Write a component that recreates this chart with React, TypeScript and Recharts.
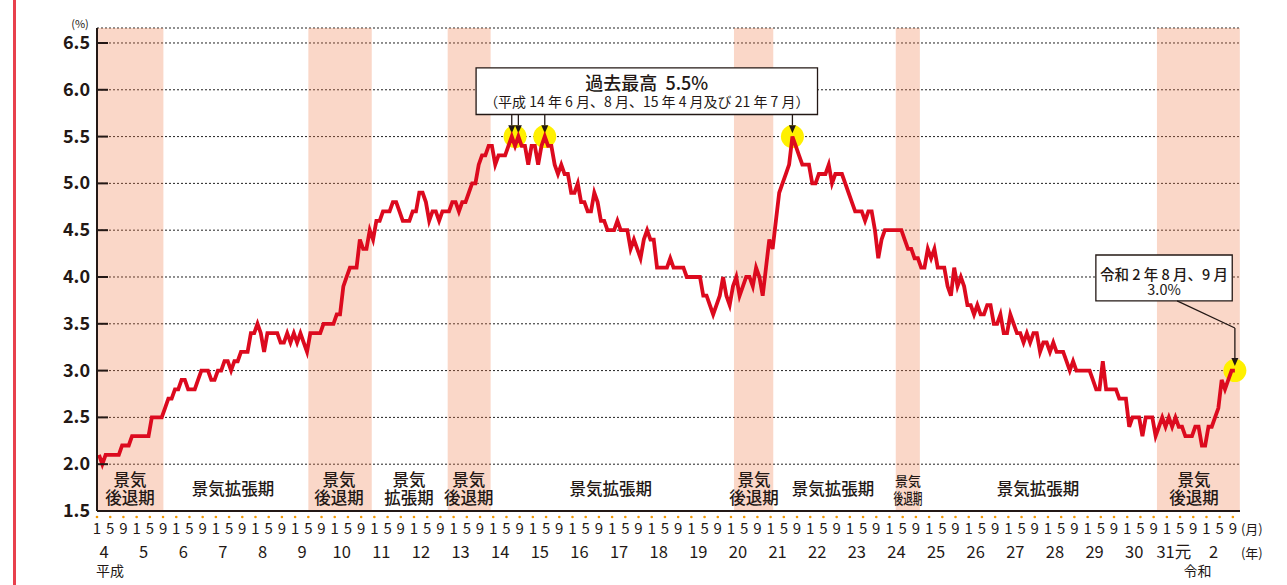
import React from "react";
import {
  LineChart,
  Line,
  XAxis,
  YAxis,
  CartesianGrid,
  ReferenceArea,
  ReferenceLine,
  ReferenceDot,
} from "recharts";

const FONT = "'Noto Sans CJK JP', 'Noto Sans', sans-serif";
const INK = "#231815";
const RED = "#dc0a1e";

// 完全失業率（季節調整値, %）: 平成4年1月 ～ 令和2年9月
const y1992 = [2.1, 2.0, 2.1, 2.1, 2.1, 2.1, 2.1, 2.2, 2.2, 2.2, 2.3, 2.3];
const y1993 = [2.3, 2.3, 2.3, 2.3, 2.5, 2.5, 2.5, 2.5, 2.6, 2.7, 2.7, 2.8];
const y1994 = [2.8, 2.9, 2.9, 2.8, 2.8, 2.8, 2.9, 3.0, 3.0, 3.0, 2.9, 2.9];
const y1995 = [3.0, 3.0, 3.1, 3.1, 3.0, 3.1, 3.1, 3.2, 3.2, 3.2, 3.4, 3.4];
const y1996 = [3.5, 3.4, 3.2, 3.4, 3.4, 3.4, 3.4, 3.3, 3.3, 3.4, 3.3, 3.4];
const y1997 = [3.3, 3.4, 3.3, 3.2, 3.4, 3.4, 3.4, 3.4, 3.5, 3.5, 3.5, 3.5];
const y1998 = [3.6, 3.6, 3.9, 4.0, 4.1, 4.1, 4.1, 4.4, 4.3, 4.3, 4.5, 4.4];
const y1999 = [4.6, 4.6, 4.7, 4.7, 4.7, 4.8, 4.8, 4.7, 4.6, 4.6, 4.6, 4.7];
const y2000 = [4.7, 4.9, 4.9, 4.8, 4.6, 4.7, 4.7, 4.6, 4.7, 4.7, 4.7, 4.8];
const y2001 = [4.8, 4.7, 4.8, 4.8, 4.9, 5.0, 5.0, 5.2, 5.3, 5.3, 5.4, 5.4];
const y2002 = [5.2, 5.3, 5.3, 5.3, 5.4, 5.5, 5.4, 5.5, 5.4, 5.4, 5.2, 5.4];
const y2003 = [5.4, 5.2, 5.4, 5.5, 5.4, 5.4, 5.2, 5.1, 5.2, 5.1, 5.1, 4.9];
const y2004 = [4.9, 5.0, 4.8, 4.8, 4.7, 4.7, 4.9, 4.8, 4.6, 4.6, 4.5, 4.5];
const y2005 = [4.5, 4.6, 4.5, 4.5, 4.5, 4.3, 4.4, 4.3, 4.2, 4.4, 4.5, 4.4];
const y2006 = [4.4, 4.1, 4.1, 4.1, 4.1, 4.2, 4.1, 4.1, 4.1, 4.1, 4.0, 4.0];
const y2007 = [4.0, 4.0, 4.0, 3.8, 3.8, 3.7, 3.6, 3.7, 3.8, 4.0, 3.8, 3.7];
const y2008 = [3.9, 4.0, 3.8, 3.9, 4.0, 4.0, 3.9, 4.1, 4.0, 3.8, 4.1, 4.4];
const y2009 = [4.3, 4.6, 4.9, 5.0, 5.1, 5.2, 5.5, 5.4, 5.3, 5.2, 5.2, 5.2];
const y2010 = [5.0, 5.0, 5.1, 5.1, 5.1, 5.2, 5.0, 5.1, 5.1, 5.1, 5.0, 4.9];
const y2011 = [4.8, 4.7, 4.7, 4.7, 4.6, 4.7, 4.7, 4.5, 4.2, 4.4, 4.5, 4.5];
const y2012 = [4.5, 4.5, 4.5, 4.5, 4.4, 4.3, 4.3, 4.2, 4.2, 4.1, 4.1, 4.3];
const y2013 = [4.2, 4.3, 4.1, 4.1, 4.1, 3.9, 3.8, 4.1, 3.9, 4.0, 3.9, 3.7];
const y2014 = [3.7, 3.6, 3.7, 3.6, 3.6, 3.7, 3.7, 3.5, 3.5, 3.6, 3.4, 3.4];
const y2015 = [3.6, 3.5, 3.4, 3.4, 3.3, 3.4, 3.3, 3.4, 3.4, 3.2, 3.3, 3.3];
const y2016 = [3.2, 3.3, 3.2, 3.2, 3.2, 3.1, 3.0, 3.1, 3.0, 3.0, 3.0, 3.0];
const y2017 = [3.0, 2.9, 2.8, 2.8, 3.1, 2.8, 2.8, 2.8, 2.8, 2.7, 2.7, 2.7];
const y2018 = [2.4, 2.5, 2.5, 2.5, 2.3, 2.5, 2.5, 2.5, 2.3, 2.4, 2.5, 2.4];
const y2019 = [2.5, 2.4, 2.5, 2.4, 2.4, 2.3, 2.3, 2.3, 2.4, 2.4, 2.2, 2.2];
const y2020 = [2.4, 2.4, 2.5, 2.6, 2.9, 2.8, 2.9, 3.0, 3.0];

const RATES = [
  ...y1992, ...y1993, ...y1994, ...y1995, ...y1996, ...y1997, ...y1998,
  ...y1999, ...y2000, ...y2001, ...y2002, ...y2003, ...y2004, ...y2005,
  ...y2006, ...y2007, ...y2008, ...y2009, ...y2010, ...y2011, ...y2012,
  ...y2013, ...y2014, ...y2015, ...y2016, ...y2017, ...y2018, ...y2019,
  ...y2020,
];

// 年ラベル（1月の位置）
const YEAR_LABELS = [
  "4", "5", "6", "7", "8", "9", "10", "11", "12", "13", "14", "15", "16",
  "17", "18", "19", "20", "21", "22", "23", "24", "25", "26", "27", "28",
  "29", "30", "31元", "2",
];
const Y_TICKS = [1.5, 2.0, 2.5, 3.0, 3.5, 4.0, 4.5, 5.0, 5.5, 6.0, 6.5];

// 景気後退期（月インデックス）
const RECESSIONS = [
  [-0.6, 19.5],
  [63.4, 82.6],
  [105.6, 118.6],
  [192.3, 204.2],
  [241.3, 248.6],
  [320.4, 345.5],
];

const PHASES = [
  { at: 9.4, text: ["景気", "後退期"] },
  { at: 40.6, text: ["景気拡張期"] },
  { at: 72.7, text: ["景気", "後退期"] },
  { at: 93.9, text: ["景気", "拡張期"] },
  { at: 112, text: ["景気", "後退期"] },
  { at: 155, text: ["景気拡張期"] },
  { at: 198.4, text: ["景気", "後退期"] },
  { at: 222.3, text: ["景気拡張期"] },
  { at: 245, text: ["景気", "後退期"], narrow: true },
  { at: 284.4, text: ["景気拡張期"] },
  { at: 331.6, text: ["景気", "後退期"] },
];

// 過去最高 5.5% の月と令和2年8・9月
const PEAK_MONTHS = [125, 127, 135, 210];
const HIGHLIGHTS = [
  { m: 126, v: 5.5 },
  { m: 135, v: 5.5 },
  { m: 210, v: 5.5 },
  { m: 344, v: 3.0 },
];

const TABLE = RATES.map((rate, m) => ({ m, rate }));
const MONTH_TICKS = TABLE.filter((d) => d.m % 4 === 0).map((d) => d.m);

const txt = { fontFamily: FONT, fill: INK } as const;

const RateTick = (props: any) => {
  const { x, y, payload } = props;
  const v = payload.value as number;
  return (
    <g>
      <line x1={x} x2={x + 11} y1={y} y2={y} stroke={INK} strokeWidth={2} />
      <text x={x - 7} y={y + 6} textAnchor="end" fontSize={18} fontWeight={600} {...txt}>
        {v.toFixed(1)}
      </text>
      {v === 6.5 && (
        <text x={x - 17} y={y - 15} textAnchor="middle" fontSize={11} {...txt}>
          (%)
        </text>
      )}
    </g>
  );
};

const MonthTick = (props: any) => {
  const { x, y, payload } = props;
  const i = payload.value as number;
  const month = (i % 12) + 1;
  const lx = x - 2;
  return (
    <g>
      <circle cx={lx} cy={y + 6} r={1.3} fill="#f39800" />
      <text x={lx} y={y + 23} textAnchor="middle" fontSize={15} {...txt}>
        {month}
      </text>
      {month === 1 && (
        <text x={x + 5} y={y + 47} textAnchor="middle" fontSize={16.5} {...txt}>
          {YEAR_LABELS[Math.floor(i / 12)]}
        </text>
      )}
      {i === 0 && (
        <text x={x + 11} y={y + 65} textAnchor="middle" fontSize={14} {...txt}>
          平成
        </text>
      )}
      {i === 336 && (
        <text x={x - 11} y={y + 65} textAnchor="middle" fontSize={14} {...txt}>
          令和
        </text>
      )}
      {i === 344 && (
        <g>
          <text x={x + 17} y={y + 23} textAnchor="middle" fontSize={13} {...txt}>
            (月)
          </text>
          <text x={x + 17} y={y + 47} textAnchor="middle" fontSize={13} {...txt}>
            (年)
          </text>
        </g>
      )}
    </g>
  );
};

const PhaseText = (props: any) => {
  const { cx, cy, text, narrow } = props;
  if (text.length === 1) {
    return (
      <text x={cx} y={cy + 6} textAnchor="middle" fontSize={16.5} fontWeight={500} {...txt}>
        {text[0]}
      </text>
    );
  }
  const fs = narrow ? 13 : 16.5;
  return (
    <text textAnchor="middle" fontSize={fs} fontWeight={500} {...txt}>
      <tspan x={cx} y={cy - 3}>
        {text[0]}
      </tspan>
      <tspan
        x={cx}
        y={cy + 15}
        {...(narrow ? { fontSize: 15, textLength: 29, lengthAdjust: "spacingAndGlyphs" } : {})}
      >
        {text[1]}
      </tspan>
    </text>
  );
};

const ArrowLine = (p: any) => {
  const { x1, y1, x2, y2 } = p;
  const ang = Math.atan2(y2 - y1, x2 - x1);
  const bx = x2 - 8 * Math.cos(ang);
  const by = y2 - 8 * Math.sin(ang);
  const px = -Math.sin(ang) * 3.5;
  const py = Math.cos(ang) * 3.5;
  return (
    <g>
      <line x1={x1} y1={y1} x2={bx} y2={by} stroke={INK} strokeWidth={1.3} />
      <polygon points={`${x2},${y2} ${bx + px},${by + py} ${bx - px},${by - py}`} fill={INK} />
    </g>
  );
};

const boxLabel = (lines: string[], sizes: number[], dys: number[]) => (props: any) => {
  const vb = props.viewBox || {};
  const cx = vb.x + vb.width / 2;
  return (
    <text textAnchor="middle" {...txt}>
      {lines.map((l, k) => (
        <tspan key={k} x={cx} y={vb.y + dys[k]} fontSize={sizes[k]} fontWeight={k === 0 ? 500 : 400}>
          {l}
        </tspan>
      ))}
    </text>
  );
};

const YellowDot = (p: any) => (
  <circle cx={p.x + p.width / 2} cy={p.y + p.height / 2} r={11.5} fill="#fff000" />
);

export default function App() {
  return (
    <div style={{ position: "absolute", left: 0, top: 0, width: 1287, height: 585, background: "#fff" }}>
      <div style={{ position: "absolute", left: 13, top: 0, width: 3, height: 585, background: "#e8404d" }} />
      <LineChart width={1287} height={585} data={TABLE} margin={{ top: 28, right: 47, bottom: 0, left: 0 }}>
        {RECESSIONS.map(([a, b], k) => (
          <ReferenceArea key={`r${k}`} x1={a} x2={b} y1={1.5} y2={6.66} fill="#f07a4a" fillOpacity={0.3} stroke="none" />
        ))}
        <CartesianGrid vertical={false} stroke="#222" strokeDasharray="2 2" />
        <XAxis
          dataKey="m"
          type="number"
          domain={[-0.606, 345.55]}
          ticks={MONTH_TICKS}
          interval={0}
          height={74}
          tickSize={0}
          tickMargin={0}
          tickLine={false}
          axisLine={{ stroke: INK, strokeWidth: 2 }}
          tick={<MonthTick />}
        />
        <YAxis
          type="number"
          domain={[1.5, 6.66]}
          ticks={Y_TICKS}
          interval={0}
          width={97}
          tickSize={0}
          tickMargin={0}
          tickLine={false}
          axisLine={{ stroke: INK, strokeWidth: 2 }}
          tick={<RateTick />}
        />
        {PHASES.map((p, k) => (
          <ReferenceDot
            key={`p${k}`}
            x={p.at}
            y={1.735}
            r={0}
            shape={(props: any) => <PhaseText {...props} text={p.text} narrow={p.narrow} />}
          />
        ))}
        {HIGHLIGHTS.map((h) => (
          <ReferenceArea
            key={`h${h.m}`}
            x1={h.m - 0.05}
            x2={h.m + 0.05}
            y1={h.v - 0.005}
            y2={h.v + 0.005}
            shape={YellowDot}
          />
        ))}
        <ReferenceArea
          x1={114.2}
          x2={217.6}
          y1={5.736}
          y2={6.233}
          fill="#fff"
          fillOpacity={1}
          stroke={INK}
          strokeWidth={1.3}
          label={boxLabel(["過去最高\u00a0\u00a05.5%", "（平成 14 年 6 月、8 月、15 年 4 月及び 21 年 7 月）"], [18, 14], [22.5, 39])}
        />
        <ReferenceArea
          x1={301.9}
          x2={343.2}
          y1={3.744}
          y2={4.235}
          fill="#fff"
          fillOpacity={1}
          stroke={INK}
          strokeWidth={1.3}
          label={boxLabel(["令和 2 年 8 月、9 月", "3.0%"], [14.5, 14.5], [25, 40])}
        />
        {PEAK_MONTHS.map((m) => (
          <ReferenceLine
            key={`a${m}`}
            segment={[{ x: m, y: 5.736 }, { x: m, y: 5.535 }]}
            stroke={INK}
            shape={ArrowLine}
          />
        ))}
        <ReferenceLine segment={[{ x: 326.5, y: 3.744 }, { x: 344, y: 3.455 }]} stroke={INK} strokeWidth={1.3} />
        <ReferenceLine segment={[{ x: 344, y: 3.455 }, { x: 344, y: 3.05 }]} stroke={INK} shape={ArrowLine} />
        <Line
          dataKey="rate"
          stroke={RED}
          strokeWidth={3.8}
          dot={false}
          activeDot={false}
          isAnimationActive={false}
        />
      </LineChart>
    </div>
  );
}
